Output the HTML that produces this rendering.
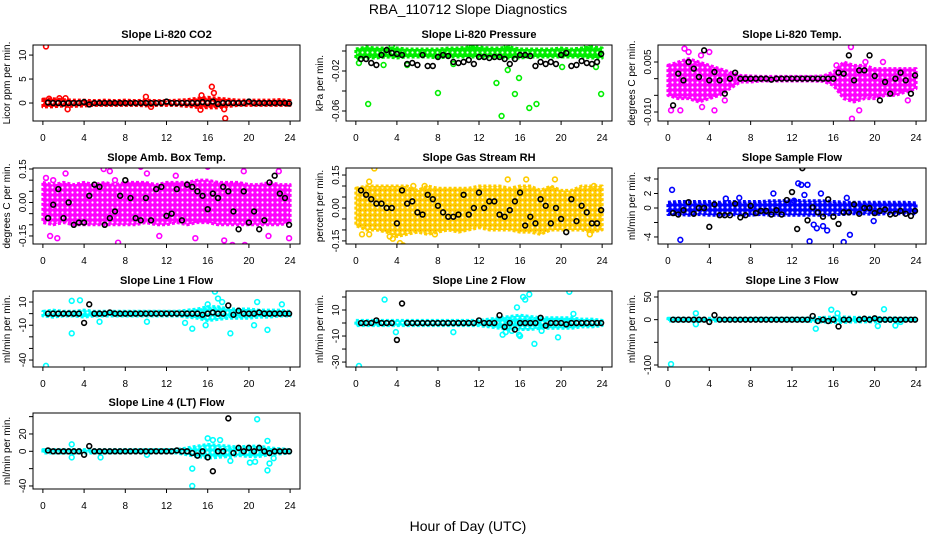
<!DOCTYPE html>
<html><head><meta charset="utf-8"><style>
html,body{margin:0;padding:0;background:#fff;}
svg{display:block;font-family:"Liberation Sans",Arial,sans-serif;}
</style></head><body>
<svg id="chart" width="936" height="540" viewBox="0 0 936 540">
<defs id="defs"></defs>
<text x="468" y="14" text-anchor="middle" font-size="14">RBA_110712  Slope Diagnostics</text>
<text x="468" y="531" text-anchor="middle" font-size="14">Hour of Day (UTC)</text>
</svg>
<script>
const xTicks = [0,4,8,12,16,20,24];
const bandHours = [0,1,2,3,4,5,6,7,8,9,10,11,12,13,14,15,16,17,18,19,20,21,22,23,24];
const blkHours = [0.5,1,1.5,2,2.5,3,3.5,4,4.5,5,5.5,6,6.5,7,7.5,8,8.5,9,9.5,10,10.5,11,11.5,12,12.5,13,13.5,14,14.5,15,15.5,16,16.5,17,17.5,18,18.5,19,19.5,20,20.5,21,21.5,22,22.5,23,23.5,23.9];

// CO2
const co2Lo = [-0.8,-0.8,-0.6,-0.7,-0.6,-0.5,-0.5,-0.5,-0.5,-0.5,-0.6,-0.5,-0.5,-0.5,-0.7,-0.9,-1.0,-1.0,-0.7,-0.5,-0.5,-0.5,-0.5,-0.5,-0.5];
const co2Hi = [0.8,0.9,0.7,0.6,0.6,0.5,0.6,0.5,0.6,0.5,0.6,0.5,0.5,0.6,0.7,1.0,1.2,1.0,0.8,0.6,0.6,0.6,0.6,0.7,0.5];
const co2OutX = [0.3,1.6,2.2,2.4,10,15.4,16.4,16.6,17.6,17.7,15.3,10.5,0.6];
const co2OutY = [11.8,1,1,-1.3,1.3,1.6,3.4,2.1,-1.3,-3.2,-1.4,-0.8,0.9];
const co2Blk = [0.1,0,0,-0.1,0,0,0,0.2,-0.3,0,0,0,0,0,0,0,0,0,0,0,0,0,0,0.3,0,0,0,0,0,0,0.2,0,0.3,-0.2,0,0,0,0,0,0.3,0,0,0,0,0,0,0,-0.1];

// Pressure
const prLo = [-0.008,-0.007,-0.007,-0.006,-0.007,-0.006,-0.006,-0.006,-0.007,-0.006,-0.006,-0.006,-0.006,-0.006,-0.007,-0.007,-0.007,-0.006,-0.006,-0.006,-0.006,-0.006,-0.006,-0.007,-0.007];
const prHi = [0.002,0.004,0.003,0.003,0.003,0.002,0.002,0.002,0.002,0.003,0.003,0.004,0.004,0.003,0.003,0.004,0.002,0.002,0.002,0.002,0.003,0.002,0.003,0.004,0.003];
const prOutX = [1.2,8,13.7,14.2,14.8,15.5,15.9,16.9,17.6,23.9,0.3,5,11.3,14.7,22.5,20.1,23.4,2.7,9.5,3.5];
const prOutY = [-0.053,-0.042,-0.032,-0.065,-0.019,-0.043,-0.027,-0.057,-0.053,-0.043,-0.012,-0.014,0.004,0.005,0.005,-0.016,-0.016,-0.014,-0.013,0.005];
const prBlk = [-0.008,-0.008,-0.012,-0.014,-0.004,0.001,-0.002,-0.003,-0.004,-0.013,-0.012,-0.014,-0.004,-0.015,-0.015,-0.006,-0.004,-0.005,-0.011,-0.012,-0.011,-0.009,-0.013,-0.006,-0.006,-0.007,-0.006,-0.006,-0.008,-0.013,-0.008,-0.004,-0.004,-0.005,-0.015,-0.011,-0.013,-0.011,-0.013,-0.004,-0.002,-0.015,-0.014,-0.010,-0.012,-0.013,-0.011,-0.003];

// Li-820 Temp
const tpLo = [-0.005,-0.006,-0.006,-0.007,-0.006,-0.005,-0.003,-0.001,-0.001,-0.0007,-0.0007,-0.0007,-0.0007,-0.0007,-0.0007,-0.0008,-0.002,-0.006,-0.007,-0.006,-0.006,-0.005,-0.005,-0.004,-0.003];
const tpHi = [0.004,0.005,0.006,0.005,0.004,0.003,0.002,0.001,0.0008,0.0007,0.0007,0.0007,0.0007,0.0007,0.0007,0.0008,0.002,0.005,0.004,0.004,0.003,0.003,0.003,0.003,0.003];
const tpOutX = [0.3,1.2,2.5,3.3,4.5,1.6,2.0,3.2,17.7,17.8,18.5,19.1,20.8,23.2,16.3,4.0,5.5];
const tpOutY = [-0.0095,-0.0095,-0.0155,-0.0085,-0.0095,0.009,0.008,0.007,0.0095,-0.012,-0.0095,0.005,0.005,-0.0065,0.004,0.008,-0.0065];
const tpBlk = [-0.008,0.0015,-0.0005,0.005,0.003,0.0005,0.0085,-0.0005,0.002,-0.0005,-0.0045,0,0.0018,0,0,0,0,0,0,-0.0003,0,0,0,0,0,0,0,0,0,0,0,0,0.0018,0.0015,0.007,-0.0005,0.0025,0.0025,0.007,0.0008,-0.0065,-0.001,-0.0045,0,0.0018,-0.0005,-0.0045,0.001];

// Amb box temp
const abLo = [-0.09,-0.1,-0.09,-0.1,-0.1,-0.1,-0.1,-0.1,-0.1,-0.1,-0.09,-0.1,-0.1,-0.09,-0.1,-0.09,-0.09,-0.1,-0.1,-0.1,-0.1,-0.1,-0.1,-0.1,-0.09];
const abHi = [0.09,0.08,0.09,0.08,0.09,0.08,0.09,0.08,0.09,0.09,0.09,0.08,0.09,0.09,0.09,0.1,0.1,0.09,0.09,0.09,0.08,0.08,0.09,0.08,0.08];
const abOutX = [0.3,0.7,1.0,1.4,2.2,4.0,4.6,5.9,6.5,7.3,9.5,10.1,11.3,12.9,15.4,16,17.3,17.6,18.4,19.5,19.6,21.9,22.9,23.9,14.8,7.0];
const abOutY = [0.11,-0.15,0.1,-0.16,0.13,-0.24,-0.26,0.15,0.14,-0.18,0.16,0.13,-0.15,0.12,0.17,0.16,0.2,-0.17,-0.19,0.14,-0.19,-0.15,0.14,-0.16,-0.16,0.1];
const abBlk = [-0.07,-0.01,0.06,-0.07,0.0,-0.1,-0.09,-0.09,0.03,0.08,0.07,-0.1,-0.07,-0.04,0.03,0.1,0.02,-0.07,-0.08,0.02,-0.08,0.06,0.07,-0.06,-0.05,0.06,-0.08,0.08,0.07,0.05,0.03,-0.03,0.04,0.02,0.07,0.05,-0.04,-0.12,0.05,-0.09,-0.04,-0.12,-0.08,0.09,0.12,0.04,0.02,-0.1];

// Gas stream RH
const rhLo = [-0.08,-0.1,-0.1,-0.11,-0.13,-0.12,-0.11,-0.12,-0.11,-0.1,-0.11,-0.1,-0.09,-0.1,-0.1,-0.1,-0.11,-0.11,-0.12,-0.1,-0.1,-0.1,-0.1,-0.11,-0.1];
const rhHi = [0.09,0.1,0.1,0.1,0.1,0.1,0.08,0.1,0.09,0.09,0.09,0.09,0.1,0.1,0.1,0.09,0.1,0.1,0.08,0.1,0.08,0.08,0.1,0.1,0.1];
const rhOutX = [0.1,1.8,1.3,3.3,3.6,4.3,4.6,4.9,5.6,7.7,14.8,16.6,19.4,23.2,22.8,1.3,0.6,6.7];
const rhOutY = [-0.18,0.18,0.12,-0.13,-0.14,-0.16,-0.17,-0.18,0.1,-0.12,0.13,0.13,0.13,0.1,-0.12,-0.12,-0.12,0.1];
const rhBlk = [0.08,0.06,0.04,0.02,0.02,0,0,-0.07,0.08,0.02,0.03,-0.02,-0.03,0.06,0.04,0.01,-0.02,-0.04,-0.04,-0.03,0.06,-0.03,0.0,0.07,0.0,0.03,0.03,-0.03,-0.04,-0.01,0.03,0.07,-0.08,-0.04,-0.07,0.04,0.01,-0.07,0.0,-0.05,-0.11,0.04,-0.06,0.01,-0.02,-0.07,-0.07,-0.01];

// Sample flow
const sfLo = [-0.9,-0.9,-1.0,-0.9,-1.0,-1.0,-0.9,-1.0,-1.0,-0.9,-1.0,-1.0,-1.0,-1.0,-1.0,-1.0,-0.9,-0.9,-0.8,-0.8,-0.9,-0.8,-0.8,-0.8,-0.8];
const sfHi = [0.8,0.9,0.9,0.9,0.9,0.8,0.9,0.9,0.9,0.9,1.0,1.0,1.1,1.0,1.0,1.0,0.9,0.8,0.8,0.8,0.8,0.8,0.8,0.8,0.7];
const sfOutX = [0.4,1.2,5.6,6.9,10.2,12.2,12.6,12.9,13.2,13.5,13.7,14.4,14.8,15.0,15.4,17.0,17.6,17.3,19.9,14.1];
const sfOutY = [2.5,-4.4,1.3,1.4,2.0,1.0,3.4,3.2,1.8,3.2,-4.6,-2.8,2.0,-2.5,-3.1,-4.7,-3.7,1.4,-1.8,-2.3];
const sfBlk = [-0.7,-0.9,-0.3,0.8,-0.8,0,0,-2.6,0.5,-1.0,-1.0,-1.0,0.6,-1.3,-1.0,0.3,-0.7,-0.4,-0.4,-0.9,-0.3,-0.9,1.1,2.2,-2.9,5.5,-1.7,0.1,-0.6,-1.2,1.2,-1.2,-2.2,-0.6,-0.6,0.5,-0.8,0,0,-0.7,-0.4,-0.2,-0.9,-0.8,-0.4,-0.8,-1.1,-0.4];

// Line 1
const l1Lo = [-2,-3,-2,-2,-3,-2,-2,-2,-2,-2,-2,-2,-2,-2,-3,-4,-6,-5,-4,-4,-4,-3,-3,-2,-2];
const l1Hi = [2,3,2,2,3,2,2,2,2,2,2,2,2,2,3,4,6,6,4,4,4,3,3,3,2];
const l1OutX = [0.3,2.8,2.8,3.6,5.5,10.1,14.5,16.7,17.0,18.2,21.8,20.8,23.2,15.8,20.5,16.0,13.8,17.4];
const l1OutY = [-45,-17,11,11.5,-7,-7,-13,19,13,-17,-14,10,8,-10,-10,8,-8,10];
const l1Blk = [0,0,0,0,0,0,0,-8,8,0,0,0,1,0,0,0,0,0,0,0,0,0,0,0,0,0,0,0,0,0,-1,0,1,0,0,7,-1,2.5,0,0,0,1,0,0,0,0,0,0];

// Line 2
const l2Lo = [-2,-2,-2,-2,-2,-2,-2,-2,-2,-2,-2,-2,-2,-3,-4,-5,-5,-5,-4,-4,-4,-4,-3,-3,-2];
const l2Hi = [2,2,2,2,2,2,2,2,2,2,2,2,2,3,4,5,6,5,4,4,4,4,3,3,2];
const l2OutX = [0.3,2.8,14.6,15.2,16.0,16.3,16.5,16.9,17.4,19.7,20.8,21.2,15.7,3.9,9.5,15.9,18.1,14.3];
const l2OutY = [-33,18,-7,-6,-10,20,18,22,-16,-11,24,7,12,-7,-7,-9,-6,-9];
const l2Blk = [0,0,0,2,0,0,0,-13,15,0,0,0,0,0,0,0,0,0,0,0,0,0,0,2,0,0,0,6,-3,0,-5,0,0,0,0,4,-2,0,0,0,-1,0,0,0,0,0,0,0];

// Line 3
const l3Lo = [-3,-3,-3,-3,-3,-3,-3,-3,-3,-3,-3,-3,-3,-3,-4,-5,-6,-6,-5,-5,-5,-4,-4,-3,-3];
const l3Hi = [3,3,3,3,3,3,3,3,3,3,3,3,3,3,4,5,6,6,5,5,5,4,4,3,3];
const l3OutX = [0.3,2.7,2.7,14.3,15.8,20.3,20.9,22.0,16.4,22.5];
const l3OutY = [-98,14,-10,-20,22,-14,23,-13,14,-5];
const l3Blk = [0,0,0,0,0,0,0,-5,10,0,0,0,0,0,0,0,0,0,0,0,0,0,0,0,0,0,0,8,-3,0,-3,0,-15,0,0,60,0,2,0,3,0,0,0,0,0,0,0,0];

// Line 4 (LT)
const l4Lo = [-2,-2,-2,-2,-2,-2,-2,-2,-2,-2,-2,-2,-2,-2,-4,-6,-8,-7,-6,-5,-6,-6,-4,-3,-2];
const l4Hi = [2,2,2,2,2,2,2,2,2,2,2,2,2,2,4,6,8,7,6,5,6,6,4,3,2];
const l4OutX = [14.5,14.5,2.8,2.8,16.0,16.5,17.2,18.2,21.8,22.0,20.8,21.8,20.1,20.6,22.4,5.6,10.1];
const l4OutY = [-40,-20,8,-7,15,13,13,-11,-22,-14,37,12,-13,-12,-8,-7,-4];
const l4Blk = [1,0,0,0,0,0,0,-4,6,0,0,0,0,0,0,0,0,0,0,0,0,0,0,0,0,1,0,0,-2,-5,0,-7,-23,0,0,38,-2,4,0,4,0,4,0,-2,0,0,0,0];

const NS = "http://www.w3.org/2000/svg";
const svg = document.getElementById('chart');
const defs = document.getElementById('defs');
function mk(tag, attrs, parent) {
  const e = document.createElementNS(NS, tag);
  for (const k in attrs) e.setAttribute(k, attrs[k]);
  (parent || svg).appendChild(e);
  return e;
}
const colL = [33, 346, 658], colR = [300, 612, 926];
const rowT = [45, 168, 291, 413], PH = 76;

const panels = [
  {name:'co2', title:'Slope Li-820 CO2', ylab:'Licor ppm per min.', r:0, c:0, ylim:[-3.75,12.1], ticks:[0,5,10], tl:['0','5','10'], col:'#ff0000', c2:'#ff0000', lo:co2Lo, hi:co2Hi, ox:co2OutX, oy:co2OutY, blk:co2Blk},
  {name:'pressure', title:'Slope Li-820 Pressure', ylab:'kPa per min.', r:0, c:1, ylim:[-0.07,0.006], ticks:[-0.06,-0.04,-0.02,0], tl:['-0.06','','-0.02',''], col:'#00ee00', c2:'#00cc00', lo:prLo, hi:prHi, ox:prOutX, oy:prOutY, blk:prBlk},
  {name:'temp', title:'Slope Li-820 Temp.', ylab:'degrees C per min.', r:0, c:2, ylim:[-0.0127,0.0101], ticks:[-0.01,-0.005,0,0.005], tl:['-0.010','','','0.005'], col:'#ff00ff', c2:'#ff00ff', lo:tpLo, hi:tpHi, ox:tpOutX, oy:tpOutY, blk:tpBlk},
  {name:'amb-box-temp', title:'Slope Amb. Box Temp.', ylab:'degrees C per min.', r:1, c:0, ylim:[-0.186,0.1545], ticks:[-0.15,-0.1,-0.05,0,0.05,0.1,0.15], tl:['-0.15','','','0.00','','','0.15'], col:'#ff00ff', c2:'#ff00ff', lo:abLo, hi:abHi, ox:abOutX, oy:abOutY, blk:abBlk},
  {name:'gas-stream-rh', title:'Slope Gas Stream RH', ylab:'percent per min.', r:1, c:1, ylim:[-0.164,0.182], ticks:[-0.15,-0.1,-0.05,0,0.05,0.1,0.15], tl:['-0.15','','','0.00','','','0.15'], col:'#ffcc00', c2:'#ff3300', lo:rhLo, hi:rhHi, ox:rhOutX, oy:rhOutY, blk:rhBlk},
  {name:'sample-flow', title:'Slope Sample Flow', ylab:'ml/min per min.', r:1, c:2, ylim:[-4.97,5.52], ticks:[-4,-2,0,2,4], tl:['-4','','0','2','4'], col:'#0000ff', c2:'#0000ff', lo:sfLo, hi:sfHi, ox:sfOutX, oy:sfOutY, blk:sfBlk},
  {name:'line-1-flow', title:'Slope Line 1 Flow', ylab:'ml/min per min.', r:2, c:0, ylim:[-46,19.5], ticks:[-40,-30,-20,-10,0,10], tl:['-40','','','-10','','10'], col:'#00ffff', c2:'#00ffff', lo:l1Lo, hi:l1Hi, ox:l1OutX, oy:l1OutY, blk:l1Blk},
  {name:'line-2-flow', title:'Slope Line 2 Flow', ylab:'ml/min per min.', r:2, c:1, ylim:[-33.8,24.6], ticks:[-30,-20,-10,0,10,20], tl:['-30','','-10','','10',''], col:'#00ffff', c2:'#00ffff', lo:l2Lo, hi:l2Hi, ox:l2OutX, oy:l2OutY, blk:l2Blk},
  {name:'line-3-flow', title:'Slope Line 3 Flow', ylab:'ml/min per min.', r:2, c:2, ylim:[-104.4,63.2], ticks:[-100,-50,0,50], tl:['-100','','0','50'], col:'#00ffff', c2:'#00ffff', lo:l3Lo, hi:l3Hi, ox:l3OutX, oy:l3OutY, blk:l3Blk},
  {name:'line-4-flow', title:'Slope Line 4 (LT) Flow', ylab:'ml/min per min.', r:3, c:0, ylim:[-43.5,44.2], ticks:[-40,-20,0,20,40], tl:['-40','','0','20',''], col:'#00ffff', c2:'#00ffff', lo:l4Lo, hi:l4Hi, ox:l4OutX, oy:l4OutY, blk:l4Blk}
];

panels.forEach((p, i) => {
  const L = colL[p.c], R = colR[p.c], T = rowT[p.r], B = T + PH;
  const xs = h => L + (h + 0.96) / 25.92 * (R - L);
  const ys = v => B - (v - p.ylim[0]) / (p.ylim[1] - p.ylim[0]) * PH;
  // speckle pattern
  const pid = 'pat' + i;
  const pat = mk('pattern', {id: pid, width: 5, height: 5, patternUnits: 'userSpaceOnUse'}, defs);
  mk('rect', {x: 0, y: 0, width: 5, height: 5, fill: p.col}, pat);
  mk('circle', {cx: 2.5, cy: 2.5, r: 1.1, fill: '#fff'}, pat);
  mk('circle', {cx: 0, cy: 0, r: 0.7, fill: p.c2}, pat);

  const g = mk('g', {});
  
  
  const cid = 'clip' + i;
  const cp = mk('clipPath', {id: cid}, g);
  mk('rect', {x: L, y: T, width: R - L, height: PH}, cp);
  const t = mk('text', {x: (L + R) / 2, y: T - 7, 'text-anchor': 'middle', 'font-size': 11, 'font-weight': 'bold'}, g);
  t.textContent = p.title;
  
  
  const yl = mk('text', {x: 0, y: 0, 'text-anchor': 'middle', 'font-size': 10, transform: `translate(${L - 23},${(T + B) / 2}) rotate(-90)`}, g);
  yl.textContent = p.ylab;
  
  
  const data = mk('g', {'clip-path': `url(#${cid})`}, g);
  
  
  let pts = bandHours.map((h, k) => xs(h) + ',' + ys(p.hi[k]));
  pts = pts.concat(bandHours.map((h, k) => xs(h) + ',' + ys(p.lo[k])).reverse());
  const band = mk('polygon', {points: pts.join(' '), fill: `url(#${pid})`, stroke: p.col, 'stroke-width': 3, 'stroke-dasharray': '3 2', 'stroke-linejoin': 'round'}, data);
  
  
  p.ox.forEach((h, k) => {
    const c = mk('circle', {cx: xs(h), cy: ys(p.oy[k]), r: 2.4, fill: 'none', stroke: p.col, 'stroke-width': 1.6}, data);
    
    
  });
  blkHours.forEach((h, k) => {
    const c = mk('circle', {cx: xs(h), cy: ys(p.blk[k]), r: 2.4, fill: 'none', stroke: '#000', 'stroke-width': 1.6}, data);
    
    
  });
  const box = mk('rect', {x: L, y: T, width: R - L, height: PH, fill: 'none', stroke: '#000', 'stroke-width': 1}, g);
  
  
  p.ticks.forEach((v, k) => {
    const y = ys(v);
    mk('line', {x1: L - 4, x2: L, y1: y, y2: y, stroke: '#000'}, g);
    if (p.tl[k]) {
      const tt = mk('text', {x: 0, y: 0, 'text-anchor': 'middle', 'font-size': 10, transform: `translate(${L - 7},${y}) rotate(-90)`}, g);
      tt.textContent = p.tl[k];
      
      
    }
  });
  xTicks.forEach(h => {
    const x = xs(h);
    mk('line', {x1: x, x2: x, y1: B, y2: B + 4, stroke: '#000'}, g);
    const tt = mk('text', {x: x, y: B + 20, 'text-anchor': 'middle', 'font-size': 10}, g);
    tt.textContent = h;
    
    
  });
});
</script>
</body></html>
